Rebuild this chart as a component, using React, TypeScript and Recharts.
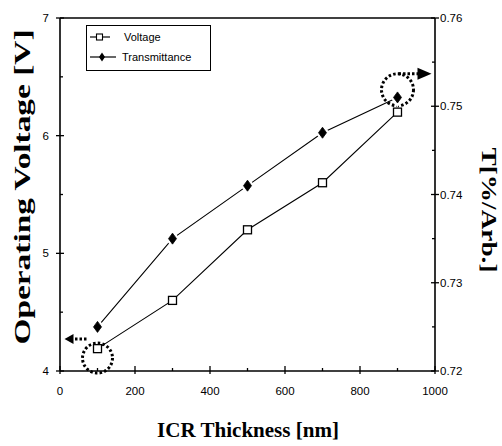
import { ComposedChart, Line, XAxis, YAxis, Legend, ReferenceLine, ReferenceDot, Label } from "recharts";

const thickness = [100, 300, 500, 700, 900];
const voltage = [4.19, 4.6, 5.2, 5.6, 6.2];
const transmittance = [0.725, 0.735, 0.741, 0.747, 0.751];

const xTicks = [0, 100, 200, 300, 400, 500, 600, 700, 800, 900, 1000];
const xLabels = ["0", "200", "400", "600", "800", "1000"];
const vTicks = [4, 4.5, 5, 5.5, 6, 6.5, 7];
const vLabels = ["4", "5", "6", "7"];
const tTicks = [0.72, 0.725, 0.73, 0.735, 0.74, 0.745, 0.75, 0.755, 0.76];
const tLabels = ["0.72", "0.73", "0.74", "0.75", "0.76"];

const data = thickness.map((t, i) => ({ thickness: t, voltage: voltage[i], trans: transmittance[i] }));

const tickFont = "'Liberation Sans', Arial, sans-serif";
const titleFont = "'Liberation Serif', 'DejaVu Serif', serif";

function XTick({ x, y, payload }: any) {
  const label = String(payload.value);
  const major = xLabels.includes(label);
  return (
    <g>
      <line x1={x} x2={x} y1={y - (major ? 5 : 3)} y2={y + (major ? 3 : 0)} stroke="#000" strokeWidth={1.3} />
      {major && (
        <text x={x} y={y + 20} textAnchor="middle" dominantBaseline="central" fontSize={11.5} fontFamily={tickFont} fill="#000">
          {label}
        </text>
      )}
    </g>
  );
}

function VTick({ x, y, payload }: any) {
  const label = String(payload.value);
  const major = vLabels.includes(label);
  return (
    <g>
      <line x1={x - (major ? 4 : 0)} x2={x + (major ? 4 : 3)} y1={y} y2={y} stroke="#000" strokeWidth={1.3} />
      {major && (
        <text x={x - 11} y={y} textAnchor="end" dominantBaseline="central" fontSize={11.5} fontFamily={tickFont} fill="#000">
          {label}
        </text>
      )}
    </g>
  );
}

function TTick({ x, y, payload }: any) {
  const label = Number(payload.value).toFixed(3).replace(/0$/, "");
  const major = tLabels.includes(label);
  return (
    <g>
      <line x1={x - (major ? 4 : 3)} x2={x + (major ? 4 : 0)} y1={y} y2={y} stroke="#000" strokeWidth={1.3} />
      {major && (
        <text x={x + 5} y={y} dominantBaseline="central" fontSize={11.5} fontFamily={tickFont} fill="#000">
          {label}
        </text>
      )}
    </g>
  );
}

function SquareDot({ cx, cy }: any) {
  return <rect x={cx - 4} y={cy - 4} width={8} height={8} fill="#fff" stroke="#000" strokeWidth={1.3} />;
}

function DiamondDot({ cx, cy }: any) {
  const pts = `${cx},${cy - 5.5} ${cx + 4},${cy} ${cx},${cy + 5.5} ${cx - 4},${cy}`;
  return (
    <g>
      <polygon points={pts} fill="#fff" stroke="#fff" strokeWidth={5} />
      <polygon points={pts} fill="#000" stroke="#000" strokeWidth={0.8} />
    </g>
  );
}

// dotted circle + arrow pointing at the axis each series belongs to
function LeftMark({ cx, cy }: any) {
  return (
    <g>
      <circle cx={cx} cy={cy} r={15} fill="none" stroke="#000" strokeWidth={3} strokeDasharray="2.5 2.2" />
      <line x1={cx - 11} x2={cx - 25} y1={cy - 19} y2={cy - 19} stroke="#000" strokeWidth={3} strokeDasharray="2.5 2" />
      <polygon points={`${cx - 33},${cy - 19} ${cx - 24},${cy - 24} ${cx - 24},${cy - 14}`} fill="#000" />
    </g>
  );
}

function RightMark({ cx, cy }: any) {
  return (
    <g>
      <circle cx={cx} cy={cy} r={16} fill="none" stroke="#000" strokeWidth={3} strokeDasharray="2.5 2.2" />
      <line x1={cx + 1} x2={cx + 21} y1={cy - 16} y2={cy - 16} stroke="#000" strokeWidth={3} strokeDasharray="2.5 2" />
      <polygon points={`${cx + 20},${cy - 22} ${cx + 34},${cy - 16} ${cx + 20},${cy - 10}`} fill="#000" />
    </g>
  );
}

function LegendBox() {
  const row = { display: "flex", alignItems: "center", height: 20 } as const;
  return (
    <div
      style={{
        border: "1.5px solid #000",
        background: "#fff",
        width: 122,
        height: 43,
        boxSizing: "content-box",
        padding: "1px 0 0 1px",
        fontFamily: tickFont,
        fontSize: 11,
        color: "#000",
        lineHeight: 1,
      }}
    >
      <div style={row}>
        <svg width={36} height={12}>
          <line x1={2} x2={22} y1={6} y2={6} stroke="#000" strokeWidth={1.2} />
          <rect x={8.5} y={3} width={6} height={6} fill="#fff" stroke="#000" strokeWidth={1.1} />
        </svg>
        <span>Voltage</span>
      </div>
      <div style={row}>
        <svg width={34} height={12}>
          <line x1={2} x2={28} y1={6} y2={6} stroke="#000" strokeWidth={1.2} />
          <polygon points="14,1.5 17,6 14,10.5 11,6" fill="#000" />
        </svg>
        <span>Transmittance</span>
      </div>
    </div>
  );
}

export default function App() {
  return (
    <div style={{ position: "absolute", left: 0, top: 0, width: 502, height: 446, background: "#fff" }}>
      <ComposedChart width={502} height={446} data={data} margin={{ top: 18, right: 0, bottom: 0, left: 0 }}>
        <XAxis
          dataKey="thickness"
          type="number"
          domain={[0, 1000]}
          ticks={xTicks}
          interval={0}
          height={75}
          tickSize={0}
          tickMargin={0}
          tickLine={false}
          tick={<XTick />}
          axisLine={{ stroke: "#000", strokeWidth: 1.6 }}
        >
          <Label
            content={({ viewBox }: any) => (
              <text
                x={viewBox.x + viewBox.width / 2 + 0.5}
                y={viewBox.y + 59}
                textAnchor="middle"
                dominantBaseline="central"
                fontFamily={titleFont}
                fontWeight="bold"
                fontSize={20}
                textLength={182}
                lengthAdjust="spacingAndGlyphs"
                fill="#000"
              >
                ICR Thickness [nm]
              </text>
            )}
          />
        </XAxis>
        <YAxis
          yAxisId="left"
          type="number"
          domain={[4, 7]}
          ticks={vTicks}
          interval={0}
          width={60}
          tickSize={0}
          tickMargin={0}
          tickLine={false}
          tick={<VTick />}
          axisLine={{ stroke: "#000", strokeWidth: 1.6 }}
        >
          <Label
            content={({ viewBox }: any) => (
              <text
                x={22}
                y={viewBox.y + 169}
                transform={`rotate(-90 22 ${viewBox.y + 169})`}
                textAnchor="middle"
                dominantBaseline="central"
                fontFamily={titleFont}
                fontWeight="bold"
                fontSize={24}
                textLength={315}
                lengthAdjust="spacingAndGlyphs"
                fill="#000"
              >
                Operating Voltage [V]
              </text>
            )}
          />
        </YAxis>
        <YAxis
          yAxisId="right"
          orientation="right"
          type="number"
          domain={[0.72, 0.76]}
          ticks={tTicks}
          interval={0}
          width={67}
          tickSize={0}
          tickMargin={0}
          tickLine={false}
          tick={<TTick />}
          axisLine={{ stroke: "#000", strokeWidth: 1.6 }}
        >
          <Label
            content={({ viewBox }: any) => (
              <text
                x={489}
                y={viewBox.y + 192}
                transform={`rotate(90 489 ${viewBox.y + 192})`}
                textAnchor="middle"
                dominantBaseline="central"
                fontFamily={titleFont}
                fontWeight="bold"
                fontSize={22}
                textLength={125}
                lengthAdjust="spacingAndGlyphs"
                fill="#000"
              >
                T[%/Arb.]
              </text>
            )}
          />
        </YAxis>
        <ReferenceLine yAxisId="left" y={7} stroke="#000" strokeWidth={1.6} />
        <Line
          yAxisId="left"
          dataKey="voltage"
          stroke="#000"
          strokeWidth={1.1}
          isAnimationActive={false}
          dot={(p: any) => <SquareDot key={`v${p.index}`} {...p} />}
          activeDot={false}
        />
        <Line
          yAxisId="right"
          dataKey="trans"
          stroke="#000"
          strokeWidth={1.1}
          isAnimationActive={false}
          dot={(p: any) => <DiamondDot key={`t${p.index}`} {...p} />}
          activeDot={false}
        />
        <ReferenceDot yAxisId="left" x={100} y={4.11} r={15} shape={(p: any) => <LeftMark {...p} />} />
        <ReferenceDot yAxisId="left" x={900} y={6.39} r={16} shape={(p: any) => <RightMark {...p} />} />
        <Legend
          layout="horizontal"
          verticalAlign="middle"
          content={() => <LegendBox />}
          wrapperStyle={{ position: "absolute", left: 86, top: 25, width: 126, height: 47 }}
        />
      </ComposedChart>
    </div>
  );
}
